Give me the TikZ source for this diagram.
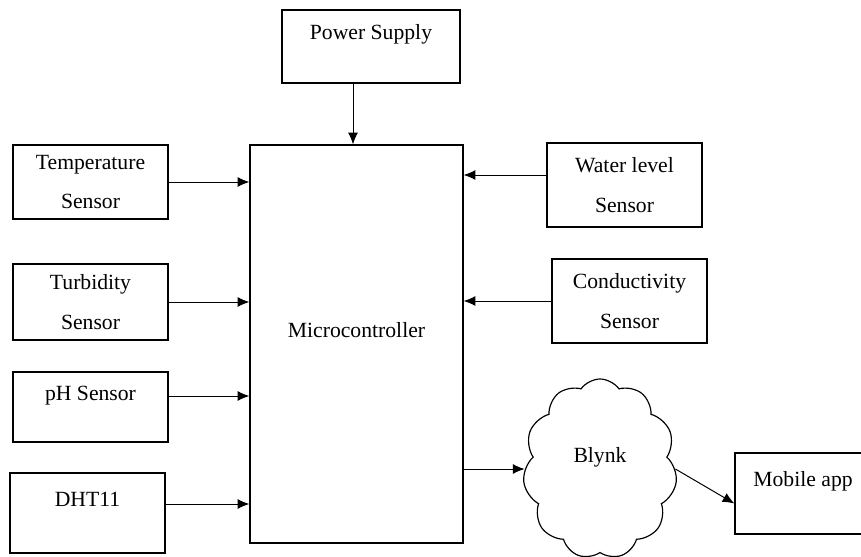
\documentclass[tikz,border=0pt]{standalone}
\usepackage{fontspec}
\setmainfont{Liberation Serif}
\usetikzlibrary{arrows.meta}
\usetikzlibrary{shapes.symbols}

\tikzset{
    blk/.style={draw, line width=1.1pt, align=center, minimum width=4.65cm, minimum height=2.3cm, inner sep=0pt, font=\fontsize{18.5}{34}\selectfont},
    arr/.style={-{Latex[length=10pt,width=8.5pt]}, line width=0.85pt}
}

\begin{document}
\begin{tikzpicture}[x=0.03cm,y=-0.03cm]
        \useasboundingbox (0,0) rectangle (861,557);

        % blocks
        \node[blk, minimum width=5.34cm, minimum height=2.19cm] (pwr) at (371,46.5) {Power Supply\\[-10pt]~};
        \node[blk, minimum width=6.39cm, minimum height=11.94cm] (mcu) at (356.5,344) {Microcontroller\\[-10pt]~};

        \node[blk, minimum height=2.22cm] (temp) at (90.5,182) {Temperature\\Sensor};
        \node[blk, minimum height=2.28cm] (turb) at (90.5,302) {Turbidity\\Sensor};
        \node[blk, minimum height=2.1cm] (ph) at (90.5,407) {pH Sensor\\[-10pt]~};
        \node[blk, minimum height=2.4cm] (dht) at (87.5,513) {DHT11\\[-10pt]~};

        \node[blk, minimum height=2.52cm] (water) at (624.5,185) {Water level\\Sensor};
        \node[blk, minimum height=2.52cm] (cond) at (629.5,301) {Conductivity\\Sensor};

        \node[cloud, draw, line width=1pt, cloud puffs=11, cloud puff arc=110, aspect=0.87,
              minimum width=4.62cm, minimum height=5.4cm, align=center,
              font=\fontsize{18.5}{34}\selectfont] (cld) at (600,469) {Blynk\\[-10pt]~};
        \node[blk, minimum width=4.08cm, minimum height=2.43cm] (mob) at (803,493.5) {Mobile app\\[-10pt]~};

        % connections
        \coordinate (pin) at ([xshift=-0.54cm]pwr.south);
        \draw[arr] (pin) -- (pin |- mcu.north);

        \draw[arr] (temp.east) -- (temp.east -| mcu.west);
        \draw[arr] (turb.east) -- (turb.east -| mcu.west);
        \coordinate (phout) at ([yshift=0.33cm]ph.east);
        \draw[arr] (phout) -- (phout -| mcu.west);
        \coordinate (dhtout) at ([yshift=0.27cm]dht.east);
        \draw[arr] (dhtout) -- (dhtout -| mcu.west);

        \coordinate (wout) at ([yshift=0.3cm]water.west);
        \draw[arr] (wout) -- (wout -| mcu.east);
        \draw[arr] (cond.west) -- (cond.west -| mcu.east);

        \draw[arr] (mcu.east |- cld.west) -- (cld.west);
        \draw[arr] (cld.east) -- ([yshift=-0.3cm]mob.west);
\end{tikzpicture}
\end{document}
